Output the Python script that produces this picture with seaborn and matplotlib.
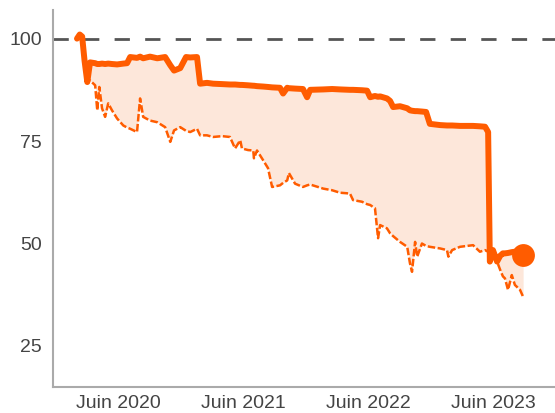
import pandas as pd
import seaborn as sns
import matplotlib.pyplot as plt

# values
dates = [
    "2020-02-02", "2020-02-10", "2020-02-17", "2020-02-24", "2020-03-03", "2020-03-11",
    "2020-03-26", "2020-04-01", "2020-04-07", "2020-04-15", "2020-04-24", "2020-05-03",
    "2020-05-14", "2020-05-29", "2020-06-16", "2020-06-27", "2020-07-06", "2020-07-26",
    "2020-08-04", "2020-08-13", "2020-09-02", "2020-09-23", "2020-10-16", "2020-10-31",
    "2020-11-11", "2020-11-29", "2020-12-16", "2020-12-28", "2021-01-17", "2021-01-26",
    "2021-02-15", "2021-03-05", "2021-03-31", "2021-04-23", "2021-05-08", "2021-05-23",
    "2021-05-28", "2021-06-15", "2021-06-30", "2021-07-02", "2021-07-11", "2021-07-29",
    "2021-08-12", "2021-08-24", "2021-09-16", "2021-09-25", "2021-10-07", "2021-10-12",
    "2021-10-30", "2021-11-22", "2021-12-04", "2021-12-13", "2022-01-20", "2022-02-15",
    "2022-03-10", "2022-04-08", "2022-04-17", "2022-05-13", "2022-05-28", "2022-06-06",
    "2022-06-20", "2022-06-29", "2022-07-05", "2022-07-25", "2022-08-03", "2022-08-12",
    "2022-09-01", "2022-09-22", "2022-09-30", "2022-10-06", "2022-10-15", "2022-10-21",
    "2022-11-04", "2022-11-16", "2022-11-27", "2022-12-27", "2023-01-16", "2023-01-20",
    "2023-01-31", "2023-02-23", "2023-04-02", "2023-04-22", "2023-05-07", "2023-05-16",
    "2023-05-21", "2023-05-30", "2023-06-11", "2023-06-20", "2023-06-28", "2023-07-04",
    "2023-07-13", "2023-07-24", "2023-08-02", "2023-08-17", "2023-08-26",
]
upper = [
    100.0, 101.0, 100.5, 94.6, 89.4, 94.2,
    94.0, 93.8, 93.8, 93.9, 93.8, 93.9,
    93.8, 93.7, 93.9, 94.0, 95.5, 95.3,
    95.6, 95.2, 95.6, 95.2, 95.5, 93.5,
    92.2, 92.8, 95.5, 95.4, 95.5, 89.0,
    89.2, 89.0, 88.9, 88.8, 88.8, 88.7,
    88.7, 88.6, 88.5, 88.5, 88.4, 88.3,
    88.2, 88.1, 88.0, 86.6, 88.0, 87.9,
    87.8, 87.7, 85.7, 87.5, 87.6, 87.7,
    87.6, 87.5, 87.5, 87.4, 87.3, 85.7,
    86.0, 85.8, 85.9, 85.4, 84.8, 83.3,
    83.5, 83.0, 82.5, 82.4, 82.3, 82.3,
    82.2, 82.1, 79.2, 78.9, 78.8, 78.8,
    78.8, 78.7, 78.7, 78.6, 78.5, 77.2,
    45.6, 48.4, 45.6, 47.0, 47.6, 47.6,
    47.7, 47.9, 48.0, 47.8, 47.2,
]
lower = [
    100.0, 101.0, 100.5, 94.6, 89.4, 89.8,
    88.6, 82.5, 88.2, 83.0, 80.9, 84.2,
    82.5, 80.5, 78.8, 78.3, 78.0, 77.2,
    85.4, 80.9, 80.0, 79.6, 78.4, 74.8,
    77.6, 78.4, 77.5, 77.2, 78.0, 76.4,
    76.4, 76.0, 76.2, 76.0, 73.2, 75.2,
    73.2, 72.8, 72.7, 70.8, 72.7, 70.3,
    68.4, 63.8, 64.2, 64.8, 65.4, 67.2,
    64.6, 63.8, 64.2, 64.4, 63.4, 63.0,
    62.4, 62.2, 60.6, 60.2, 59.6, 59.4,
    58.6, 51.3, 54.5, 53.7, 52.5, 51.8,
    50.4, 49.2, 45.2, 43.1, 50.4, 46.8,
    50.0, 49.4, 49.2, 48.8, 48.4, 46.8,
    48.4, 49.2, 49.6, 48.0, 48.4, 48.0,
    45.6, 47.0, 45.6, 43.6, 42.0, 41.5,
    38.7, 42.3, 39.9, 38.7, 37.0,
]
tick_dates = ["2020-06-01", "2021-06-01", "2022-06-01", "2023-06-01"]
tick_labels = ["Juin 2020", "Juin 2021", "Juin 2022", "Juin 2023"]
y_ticks = [25, 50, 75, 100]

df = pd.DataFrame({"date": pd.to_datetime(dates), "upper": upper, "lower": lower})

sns.set_style("white")
plt.rcParams["font.family"] = ["Liberation Sans", "DejaVu Sans"]

orange = "#ff5c00"
fig = plt.figure(figsize=(5.55, 4.13), dpi=100)
ax = fig.add_axes([0.0955, 0.063, 0.9045, 0.913])

ax.fill_between(df["date"], df["lower"], df["upper"], color="#fde7da", lw=0)
ax.axhline(100, color="#555555", lw=2, dashes=(5.5, 5.5))
sns.lineplot(data=df, x="date", y="lower", ax=ax, color=orange, lw=1.8,
             linestyle=(0, (3, 1)))
sns.lineplot(data=df, x="date", y="upper", ax=ax, color=orange, lw=4.3)
sns.scatterplot(data=df.tail(1), x="date", y="upper", ax=ax, color=orange,
                s=270, linewidth=0, zorder=5)

ax.set_xlim(pd.Timestamp("2019-11-24"), pd.Timestamp("2023-11-27"))
ax.set_ylim(15, 107)
ax.set_yticks(y_ticks)
ax.set_xticks(pd.to_datetime(tick_dates))
ax.set_xticklabels(tick_labels)
ax.set_xlabel("")
ax.set_ylabel("")

sns.despine(ax=ax)
for s in ["left", "bottom"]:
    ax.spines[s].set_color("#aaaaaa")
    ax.spines[s].set_linewidth(1.5)
ax.tick_params(axis="both", direction="in", length=6, width=1.5, color="#aaaaaa",
               labelcolor="#444444", labelsize=14)
ax.tick_params(axis="y", pad=8)
ax.tick_params(axis="x", pad=6)

fig.savefig("out.png", dpi=100)
